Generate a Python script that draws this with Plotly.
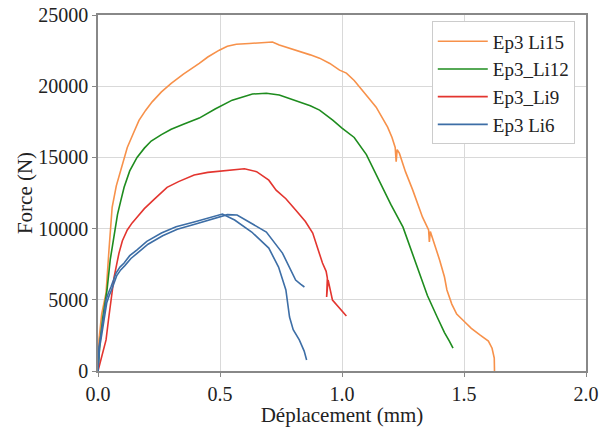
import plotly.graph_objects as go

# --- data ---
li15_x = [0, 0.004, 0.015, 0.033, 0.045, 0.052, 0.058, 0.075, 0.093, 0.12, 0.145, 0.168, 0.195, 0.222, 0.26, 0.30, 0.35,
          0.394, 0.415, 0.45, 0.497, 0.53, 0.567, 0.62, 0.67, 0.715, 0.743, 0.78, 0.825, 0.87, 0.908, 0.95, 0.99,
          1.018, 1.05, 1.084, 1.11, 1.14, 1.165, 1.187, 1.205, 1.218, 1.222, 1.226, 1.235, 1.26, 1.29, 1.33,
          1.355, 1.358, 1.362, 1.37, 1.39, 1.40, 1.42, 1.43, 1.45, 1.47, 1.495, 1.53, 1.565, 1.60, 1.615, 1.624, 1.625]
li15_y = [0, 2180, 4000, 5480, 8500, 9900, 11500, 13000, 14100, 15700, 16700, 17600, 18300, 18900, 19600, 20200, 20850,
          21340, 21600, 22050, 22530, 22800, 22950, 23000, 23050, 23100, 22890, 22700, 22460, 22200, 21970, 21600, 21130,
          20920, 20400, 19730, 19150, 18530, 17800, 17130, 16400, 15700, 14700, 15550, 15300, 14000, 12700, 10800,
          9900, 9060, 9800, 9400, 8300, 7800, 6600, 5690, 4700, 4000, 3580, 3000, 2530, 2100, 1600, 900, 0]

li12_x = [0, 0.008, 0.02, 0.037, 0.05, 0.066, 0.08, 0.094, 0.107, 0.13, 0.16, 0.19, 0.218, 0.26, 0.30, 0.35, 0.394,
          0.415, 0.48, 0.55, 0.633, 0.69, 0.743, 0.78, 0.825, 0.87, 0.908, 0.962, 1.0, 1.05, 1.1, 1.154, 1.2, 1.25,
          1.28, 1.318, 1.35, 1.39, 1.42, 1.44, 1.454, 1.455]
li12_y = [0, 2000, 3800, 5690, 7800, 9690, 11000, 12000, 12900, 14050, 15000, 15650, 16150, 16600, 16980, 17320, 17620,
          17760, 18400, 19020, 19450, 19510, 19380, 19150, 18880, 18620, 18320, 17620, 17060, 16400, 15200, 13270, 11700, 10100,
          8700, 6880, 5300, 3790, 2700, 2100, 1690, 1600]

li9_x = [0, 0.01, 0.02, 0.033, 0.043, 0.053, 0.066, 0.086, 0.1, 0.12, 0.14, 0.16, 0.19, 0.23, 0.283, 0.33, 0.394,
         0.45, 0.517, 0.56, 0.6, 0.65, 0.7, 0.73, 0.77, 0.81, 0.85, 0.88, 0.92, 0.935, 0.94, 0.937, 0.943, 0.961,
         0.99, 1.018]
li9_y = [0, 700, 1300, 2180, 3600, 5000, 6600, 8280, 9150, 9900, 10400, 10800, 11400, 12050, 12900, 13300, 13760,
         13950, 14040, 14100, 14200, 14000, 13400, 12700, 12100, 11300, 10500, 9690, 7580, 7000, 6530, 5200, 6400, 4980,
         4400, 3860]

li6a_x = [0, 0.002, 0.004, 0.01, 0.017, 0.025, 0.033, 0.043, 0.053, 0.074, 0.09, 0.107, 0.13, 0.16, 0.2, 0.26,
          0.32, 0.394, 0.45, 0.51, 0.56, 0.63, 0.70, 0.74, 0.77, 0.785, 0.80, 0.825, 0.845, 0.853, 0.855]
li6a_y = [0, 1000, 1700, 2300, 3100, 4000, 5000, 5500, 5900, 6880, 7300, 7580, 8100, 8500, 9100, 9690,
          10130, 10460, 10750, 11020, 10600, 9760, 8630, 7300, 5690, 3790, 2900, 2180, 1400, 980, 770]

li6b_x = [0, 0.003, 0.006, 0.012, 0.02, 0.028, 0.036, 0.046, 0.056, 0.077, 0.093, 0.11, 0.135, 0.165, 0.205, 0.265,
          0.325, 0.4, 0.46, 0.53, 0.57, 0.62, 0.69, 0.756, 0.81, 0.83, 0.846]
li6b_y = [0, 900, 1600, 2200, 3000, 3900, 4800, 5300, 5700, 6700, 7100, 7400, 7900, 8330, 8900, 9500,
          9950, 10330, 10650, 10980, 10950, 10460, 9760, 8280, 6390, 6100, 5900]

x_ticks = [0.0, 0.5, 1.0, 1.5, 2.0]
y_ticks = [0, 5000, 10000, 15000, 20000, 25000]

FONT = "Liberation Serif"
fig = go.Figure()
series = [
    ("Ep3 Li15", li15_x, li15_y, "#F7914A", True),
    ("Ep3_Li12", li12_x, li12_y, "#1E8C1E", True),
    ("Ep3_Li9", li9_x, li9_y, "#E3352F", True),
    ("Ep3 Li6", li6a_x, li6a_y, "#3D6EA6", True),
    ("Ep3 Li6", li6b_x, li6b_y, "#3D6EA6", False),
]
for name, xs, ys, col, show in series:
    fig.add_trace(go.Scatter(x=xs, y=ys, mode="lines", name=name, showlegend=show,
                             line=dict(color=col, width=1.6)))

axis_common = dict(showgrid=True, gridcolor="#d9d9d9", gridwidth=1.2, showline=True, linecolor="#888888",
                   linewidth=1.5, mirror=True, ticks="outside", ticklen=4, tickcolor="#888888",
                   tickfont=dict(family=FONT, size=20, color="#222"), zeroline=False, automargin=False)
fig.update_xaxes(range=[0, 2.0], tickvals=x_ticks, ticktext=[f"{v:.1f}" for v in x_ticks],
                 title=dict(text="Déplacement (mm)", font=dict(family=FONT, size=21, color="#222"), standoff=4),
                 **axis_common)
fig.update_yaxes(range=[0, 25000], tickvals=y_ticks, ticktext=[str(v) for v in y_ticks],
                 title=dict(text="Force (N)", font=dict(family=FONT, size=21, color="#222"), standoff=0),
                 **axis_common)
fig.update_layout(
    width=607, height=427, margin=dict(l=98, r=21, t=15, b=56),
    plot_bgcolor="white", paper_bgcolor="white",
    font=dict(family=FONT, color="#222"),
    legend=dict(x=0.977, y=0.982, xanchor="right", yanchor="top", bgcolor="white",
                bordercolor="#cccccc", borderwidth=1, font=dict(family=FONT, size=19, color="#222"),
                tracegroupgap=0, itemwidth=50),
)
fig.write_html("out.html", config={"displayModeBar": False},
               post_script="document.body.style.margin='0';document.body.style.overflow='hidden';")
